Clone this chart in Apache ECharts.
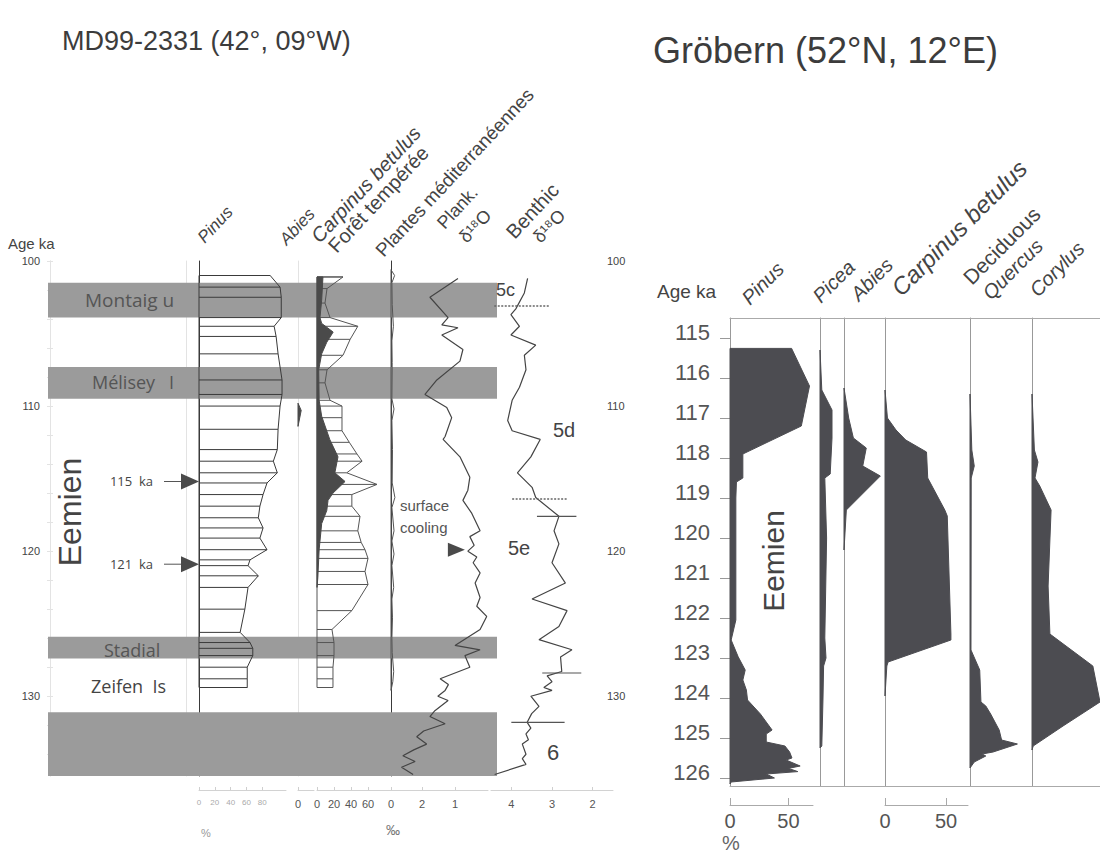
<!DOCTYPE html>
<html>
<head>
<meta charset="utf-8">
<script src="https://cdn.jsdelivr.net/npm/echarts@6/dist/echarts.min.js"></script>
<style>
html, body { margin: 0; padding: 0; background: #fff; }
#chart { width: 1100px; height: 854px; }
</style>
</head>
<body>
<div id="chart"></div>
<script>
// ---------- MD99-2331 (left panel) ----------
var ageTicksL = [100, 110, 120, 130];
var bandTops = [101.5, 107.3, 125.9, 131.1];
var bandBottoms = [103.9, 109.5, 127.4, 135.5];

// Pinus, % (outline + sample lines)
var pinusAgesL = [101.0, 101.8, 102.5, 103.9, 104.5, 105.2, 106.4, 108.2, 109.2, 110.0, 111.6, 113.0, 113.8, 114.6, 115.3, 116.1, 116.9, 117.7, 118.4, 119.1, 119.9, 120.6, 121.0, 121.7, 122.5, 124.0, 125.6, 126.3, 126.7, 127.2, 128.0, 128.8, 129.4];
var pinusValsL = [90, 102.5, 104, 104, 95, 97.5, 100, 105, 105, 102.5, 100, 99, 94, 99, 86, 81, 77, 75, 81, 77, 86, 64.5, 62, 75, 62, 58, 52, 64.5, 68, 68, 61, 61, 61];

// Abies, %
var abiesAgesL = [109.8, 110.3, 111.4];
var abiesValsL = [0, 4, 0];

// Forêt tempérée, %
var foretAges = [101.1, 101.9, 102.9, 103.9, 104.5, 105.4, 106.5, 107.5, 108.4, 109.6, 110.0, 110.8, 111.7, 112.5, 113.3, 113.8, 114.6, 115.4, 116.1, 116.9, 117.6, 118.6, 119.4, 119.9, 120.5, 121.4, 122.3, 124.1, 125.4, 126.3, 127.2, 128.0, 128.8, 129.4];
var foretVals = [30.6, 11.8, 9.4, 15.3, 48, 39, 30.6, 11.8, 9.4, 15.3, 29.4, 29.4, 29.4, 38, 47, 53, 35, 70.6, 41, 41, 50.6, 48, 52, 56.5, 60, 56.5, 60, 41, 17.6, 20, 20, 18.8, 18.8, 18.8];

// Carpinus betulus, %
var carpAgesL = [101.1, 102.7, 103.9, 104.3, 104.9, 105.6, 106.4, 107.5, 109.6, 110.7, 112.3, 113.5, 114.6, 115.2, 116.0, 116.5, 117.2, 118.1, 119.9, 121.8, 122.5];
var carpValsL = [7, 5.5, 3.5, 5.5, 19, 11.5, 5.5, 2, 2.5, 5.5, 15, 24.7, 21, 33, 18.8, 13, 11.5, 5.5, 2.5, 1, 0];

// Plantes méditerranéennes, %
var medAges = [100.6, 101.0, 101.5, 103.0, 104.5, 105.5, 107.0, 109.5, 110.2, 111.0, 113.0, 115.3, 116.3, 117.0, 118.6, 119.3, 120.2, 121.0, 122.5, 123.3, 124.6, 126.0, 127.0, 128.3, 129.0, 129.6];
var medVals = [0, 1.2, 0.3, 0.4, 0.8, 0.3, 0.4, 0.3, 1.0, 0.3, 0.5, 0.4, 1.3, 0.3, 1.0, 0.3, 1.0, 0.3, 0.9, 0.3, 0.5, 0.3, 0.4, 0.9, 0.6, 0];

// Planktonic δ18O, ‰
var plankAges = [101.2, 102.5, 103.9, 104.4, 104.6, 105.1, 106.1, 106.9, 108.2, 109.2, 110.1, 110.8, 112.1, 112.3, 113.5, 114.9, 115.8, 116.5, 117.4, 118.6, 119.0, 119.6, 120.0, 120.4, 120.8, 121.5, 122.2, 123.2, 123.8, 124.5, 125.4, 126.5, 126.8, 127.2, 128.0, 128.8, 129.2, 129.6, 130.0, 130.3, 131.0, 131.4, 131.9, 132.4, 132.8, 133.3, 133.7, 134.1, 134.5, 134.9, 135.4];
var plankVals = [0.91, 1.76, 1.21, 1.40, 0.91, 1.40, 0.76, 0.85, 1.55, 1.91, 1.25, 1.10, 1.30, 1.36, 0.85, 0.55, 0.61, 0.76, 0.49, 0.24, 0.55, 0.42, 0.61, 0.34, 0.45, 0.24, 0.39, 0.24, 0.34, 0.04, 0.24, 1.0, 0.24, 0.70, 0.55, 1.45, 1.20, 1.30, 1.52, 1.21, 1.61, 1.76, 1.30, 1.95, 2.16, 1.86, 2.25, 2.58, 2.21, 2.62, 2.27];

// Benthic δ18O, ‰
var benthAges = [101.2, 102.2, 103.3, 103.7, 104.5, 105.1, 105.8, 106.5, 107.5, 108.7, 109.6, 111.0, 111.7, 112.3, 113.5, 114.6, 115.6, 116.3, 117.6, 118.6, 119.5, 120.8, 122.2, 123.3, 124.1, 125.2, 126.1, 126.8, 127.3, 128.3, 128.6, 129.0, 129.4, 129.6, 130.0, 130.7, 131.2, 131.8, 132.2, 132.6, 133.0, 133.3, 134.0, 134.3, 134.7, 135.4];
var benthVals = [3.60, 3.68, 3.89, 4.01, 3.80, 4.01, 3.40, 3.68, 3.64, 3.80, 3.98, 4.09, 3.98, 3.29, 3.52, 3.85, 3.49, 3.40, 2.83, 2.95, 2.83, 3.00, 2.67, 3.49, 2.63, 2.83, 3.32, 2.51, 2.79, 2.76, 3.12, 3.00, 3.20, 3.00, 3.52, 3.32, 3.50, 3.61, 3.52, 3.64, 3.58, 3.73, 3.64, 3.73, 3.64, 4.41];

// isotope stage boundaries: [from ‰, to ‰, age, dotted]
var benthMarks = [[4.42, 3.06, 103.1, 1], [3.98, 2.64, 116.4, 1], [3.37, 2.40, 117.6, 0], [3.24, 2.28, 128.4, 0], [4.0, 2.69, 131.8, 0]];
var arrowAges = [115.2, 120.9];
var coolingPoint = [0.70, 119.9];

// ---------- Gröbern (right panel) ----------
var ageTicksR = [115, 116, 117, 118, 119, 120, 121, 122, 123, 124, 125, 126];
var pinusAgesR = [115.26, 116.2, 117.2, 117.9, 118.5, 118.6, 119.0, 122.05, 122.55, 122.97, 123.3, 123.55, 123.8, 124.05, 124.4, 124.8, 124.9, 125.1, 125.2, 125.35, 125.5, 125.55, 125.7, 125.76, 125.84, 125.9, 126.0, 126.1, 126.15];
var pinusValsR = [52.7, 68, 61, 11, 11, 5.5, 5, 5, 1, 7, 13, 11, 14, 15, 26, 36, 31, 31, 47, 51, 53, 48, 60, 50, 58, 31, 38, 1, 0];
var piceaAges = [115.3, 116.3, 116.8, 117.5, 118.4, 118.5, 120.0, 122.5, 123.0, 123.2, 124.0, 125.2, 125.25];
var piceaVals = [0, 1.5, 10, 10, 8.5, 4, 5.5, 4, 5, 3, 2.5, 1.5, 0];
var abiesAgesR = [116.25, 117.0, 117.5, 117.75, 118.2, 118.45, 119.3, 120.3];
var abiesValsR = [0, 4, 8, 19, 16, 31, 2, 0];
var carpAgesR = [116.3, 117.0, 117.3, 117.55, 117.85, 118.5, 119.3, 119.45, 122.4, 122.55, 123.1, 123.2, 123.95];
var carpValsR = [0, 2, 9, 17, 34, 35, 49, 51, 54, 54, 2.5, 1.5, 0];
var quercAges = [116.4, 117.8, 118.2, 118.5, 122.8, 123.3, 124.1, 124.2, 124.4, 124.8, 125.05, 125.15, 125.35, 125.4, 125.45, 125.6, 125.75];
var quercVals = [0, 1.5, 3.5, 1, 0.8, 8, 9, 13, 17, 24, 26, 39, 19, 10, 13, 3.5, 0];
var corylAges = [116.4, 117.8, 118.1, 118.5, 118.7, 119.3, 121.2, 122.4, 123.2, 124.1, 124.7, 125.2, 125.3];
var corylVals = [0, 2, 5, 2.5, 6.5, 16, 13.5, 15, 51, 57, 26, 1, 0];
var scaleTicksR = [0, 50];

var chart = echarts.init(document.getElementById('chart'), null, {renderer: 'svg'});

var PANEL_L = {min: 100, max: 135.5, top: 261, height: 515};
var PANEL_R = {min: 114.5, max: 126.2, top: 318, height: 468};
var FONT = 'Liberation Sans';
var DARK_L = '#4a4a4a';
var DARK_R = '#4c4c51';
var LINE = '#3a3a3a';
var FAINT = '#e3e3e3';

var grids = [], xAxes = [], yAxes = [], series = [];

function addGrid(left, width, panel, xa, ya) {
	var g = grids.length;
	grids.push({left: left, width: width, top: panel.top, height: panel.height, containLabel: false});
	xAxes.push(Object.assign({type: 'value', gridIndex: g, min: 0, max: 1, show: false, splitLine: {show: false}}, xa || {}));
	yAxes.push(Object.assign({type: 'value', gridIndex: g, min: panel.min, max: panel.max, inverse: true, show: false, splitLine: {show: false}}, ya || {}));
	return g;
}

function pairs(ages, vals) {
	return ages.map(function (a, i) { return [vals[i], a]; });
}

function areaSeries(g, ages, vals, fill, stroke, z) {
	return {
		type: 'custom', xAxisIndex: g, yAxisIndex: g, z: z || 3,
		data: pairs(ages, vals),
		renderItem: function (params, api) {
			if (params.dataIndex !== 0) return null;
			var pts = [api.coord([0, ages[0]])];
			ages.forEach(function (a, i) { pts.push(api.coord([vals[i], a])); });
			pts.push(api.coord([0, ages[ages.length - 1]]));
			return {type: 'polygon', shape: {points: pts}, style: {fill: fill, stroke: stroke, lineWidth: 1}};
		}
	};
}

function rungSeries(g, ages, vals, color) {
	return {
		type: 'custom', xAxisIndex: g, yAxisIndex: g, z: 3,
		data: pairs(ages, vals),
		renderItem: function (params, api) {
			var a = api.value(1);
			var p0 = api.coord([0, a]);
			var p1 = api.coord([api.value(0), a]);
			return {type: 'line', shape: {x1: p0[0], y1: p0[1], x2: p1[0], y2: p1[1]}, style: {stroke: color, lineWidth: 1}};
		}
	};
}

function curveSeries(g, ages, vals, color, width) {
	return {
		type: 'line', xAxisIndex: g, yAxisIndex: g, z: 4, showSymbol: false, clip: false,
		data: pairs(ages, vals),
		lineStyle: {color: color, width: width}
	};
}

function bottomAxis(values, size, color) {
	return {
		show: true, position: 'bottom', offset: 14,
		axisLine: {show: true, lineStyle: {color: '#d2d2d2'}},
		axisTick: {show: true, inside: true, length: 3, customValues: values, lineStyle: {color: '#cfcfcf'}},
		axisLabel: {show: true, customValues: values, fontSize: size, color: color, margin: 8, fontFamily: FONT}
	};
}
function faintAxis() {
	return {show: true, position: 'left', axisLine: {show: true, lineStyle: {color: FAINT}}, axisTick: {show: false}, axisLabel: {show: false}};
}

// ---- left frame: age axes + bands ----
var minorAges = [100, 102, 104, 106, 108, 110, 112, 114, 116, 118, 120, 122, 124, 126, 128, 130, 132, 134];
addGrid(50, 547, PANEL_L, null, {
	show: true, position: 'left',
	axisLine: {show: true, lineStyle: {color: FAINT}},
	axisTick: {show: true, length: 3, customValues: minorAges, lineStyle: {color: FAINT}},
	axisLabel: {customValues: ageTicksL, fontSize: 11, color: '#444', margin: 10, fontFamily: FONT}
});
addGrid(50, 547, PANEL_L, null, {
	show: true, position: 'right',
	axisLine: {show: true, lineStyle: {color: FAINT}},
	axisTick: {show: true, length: 3, customValues: minorAges, lineStyle: {color: FAINT}},
	axisLabel: {customValues: ageTicksL, fontSize: 11, color: '#444', margin: 10, fontFamily: FONT}
});
addGrid(186, 10, PANEL_L, null, faintAxis());
var gBands = addGrid(48, 449, PANEL_L);
series.push({
	type: 'custom', xAxisIndex: gBands, yAxisIndex: gBands, z: 1,
	data: bandTops.map(function (t, i) { return [t, bandBottoms[i]]; }),
	renderItem: function (params, api) {
		var p0 = api.coord([0, api.value(0)]);
		var p1 = api.coord([1, api.value(1)]);
		return {type: 'rect', shape: {x: p0[0], y: p0[1], width: p1[0] - p0[0], height: p1[1] - p0[1]}, style: {fill: '#9b9b9b'}};
	}
});

// ---- Pinus ----
var gPinusL = addGrid(199, 87, PANEL_L, Object.assign({min: 0, max: 110}, bottomAxis([0, 20, 40, 60, 80], 8, '#aaa')), {
	show: true, position: 'left', axisLine: {show: true, lineStyle: {color: LINE}}, axisTick: {show: false}, axisLabel: {show: false}
});
series.push(areaSeries(gPinusL, pinusAgesL, pinusValsL, 'none', LINE));
series.push(rungSeries(gPinusL, pinusAgesL, pinusValsL, LINE));
series.push({
	type: 'custom', xAxisIndex: gPinusL, yAxisIndex: gPinusL, z: 5,
	data: arrowAges.map(function (a) { return [0, a]; }),
	renderItem: function (params, api) {
		var p = api.coord([0, api.value(1)]);
		return {type: 'group', children: [
			{type: 'line', shape: {x1: p[0] - 35, y1: p[1], x2: p[0] - 16, y2: p[1]}, style: {stroke: '#555', lineWidth: 1}},
			{type: 'polygon', shape: {points: [[p[0] - 18, p[1] - 8], [p[0], p[1]], [p[0] - 18, p[1] + 8]]}, style: {fill: DARK_L}}
		]};
	}
});

// ---- Abies ----
var gAbiesL = addGrid(298, 16, PANEL_L, Object.assign({min: 0, max: 20}, bottomAxis([0], 11, '#555')), faintAxis());
series.push(areaSeries(gAbiesL, abiesAgesL, abiesValsL, DARK_L, DARK_L));

// ---- Forêt tempérée / Carpinus ----
var gForet = addGrid(317, 85, PANEL_L, Object.assign({min: 0, max: 100}, bottomAxis([0, 20, 40, 60], 11, '#555')));
series.push(areaSeries(gForet, foretAges, foretVals, 'none', '#555'));
series.push(rungSeries(gForet, foretAges, foretVals, '#555'));
series.push(areaSeries(gForet, carpAgesL, carpValsL, DARK_L, DARK_L, 4));

// ---- Plantes méditerranéennes ----
var gMed = addGrid(391, 30, PANEL_L, Object.assign({min: 0, max: 10}, bottomAxis([0], 11, '#555')), {
	show: true, position: 'left', axisLine: {show: true, lineStyle: {color: LINE}}, axisTick: {show: false}, axisLabel: {show: false}
});
series.push(areaSeries(gMed, medAges, medVals, 'none', '#555'));

// ---- Planktonic ----
var gPlank = addGrid(389, 99, PANEL_L, Object.assign({min: 0, max: 3, inverse: true}, bottomAxis([1, 2], 11, '#555')));
series.push(curveSeries(gPlank, plankAges, plankVals, '#444', 1.2));
series.push({
	type: 'custom', xAxisIndex: gPlank, yAxisIndex: gPlank, z: 5,
	data: [coolingPoint],
	renderItem: function (params, api) {
		var p = api.coord([api.value(0), api.value(1)]);
		return {type: 'polygon', shape: {points: [[p[0] - 17, p[1] - 7], [p[0], p[1]], [p[0] - 17, p[1] + 7]]}, style: {fill: DARK_L}};
	}
});

// ---- Benthic ----
var gBenth = addGrid(491, 122, PANEL_L, Object.assign({min: 1.5, max: 4.5, inverse: true}, bottomAxis([2, 3, 4], 11, '#555')));
series.push(curveSeries(gBenth, benthAges, benthVals, '#444', 1.2));
series.push({
	type: 'custom', xAxisIndex: gBenth, yAxisIndex: gBenth, z: 5,
	data: benthMarks,
	renderItem: function (params, api) {
		var p0 = api.coord([api.value(0), api.value(2)]);
		var p1 = api.coord([api.value(1), api.value(2)]);
		var dotted = api.value(3) === 1;
		return {type: 'line', shape: {x1: p0[0], y1: p0[1], x2: p1[0], y2: p1[1]},
			style: {stroke: dotted ? '#666' : '#555', lineWidth: dotted ? 1.5 : 1.2, lineDash: dotted ? [2, 1.5] : null}};
	}
});

// ---- right panel frame ----
addGrid(730, 370, PANEL_R, {show: true, position: 'top', axisLine: {show: true, lineStyle: {color: '#aaa'}}, axisTick: {show: false}, axisLabel: {show: false}});
addGrid(730, 370, PANEL_R, {show: true, position: 'bottom', axisLine: {show: true, lineStyle: {color: '#aaa'}}, axisTick: {show: false}, axisLabel: {show: false}}, {
	show: true, position: 'left',
	axisLine: {show: true, lineStyle: {color: '#999'}},
	axisTick: {show: true, length: 10, customValues: ageTicksR, lineStyle: {color: '#999'}},
	axisLabel: {customValues: ageTicksR, fontSize: 22, color: '#555', margin: 20, fontFamily: FONT, verticalAlign: 'bottom', lineHeight: 12}
});

function scaleAxis(max) {
	return {
		min: 0, max: max, show: true, position: 'bottom', offset: 19,
		axisLine: {show: true, lineStyle: {color: '#aaa'}},
		axisTick: {show: true, inside: true, length: 7, customValues: scaleTicksR, lineStyle: {color: '#aaa'}},
		axisLabel: {customValues: scaleTicksR, fontSize: 20, color: '#555', margin: 6, fontFamily: FONT}
	};
}
function sepAxis() {
	return {show: true, position: 'left', axisLine: {show: true, lineStyle: {color: '#999'}}, axisTick: {show: false}, axisLabel: {show: false}};
}

var gPinusR = addGrid(730, 83, PANEL_R, scaleAxis(71));
series.push(areaSeries(gPinusR, pinusAgesR, pinusValsR, DARK_R, DARK_R));
var gPicea = addGrid(820, 24, PANEL_R, {min: 0, max: 20}, sepAxis());
series.push(areaSeries(gPicea, piceaAges, piceaVals, DARK_R, DARK_R));
var gAbiesR = addGrid(844, 41, PANEL_R, {min: 0, max: 35}, sepAxis());
series.push(areaSeries(gAbiesR, abiesAgesR, abiesValsR, DARK_R, DARK_R));
var gCarpR = addGrid(885, 83, PANEL_R, scaleAxis(68), sepAxis());
series.push(areaSeries(gCarpR, carpAgesR, carpValsR, DARK_R, DARK_R));
var gQuerc = addGrid(970, 62, PANEL_R, {min: 0, max: 51}, sepAxis());
series.push(areaSeries(gQuerc, quercAges, quercVals, DARK_R, DARK_R));
var gCoryl = addGrid(1032, 68, PANEL_R, {min: 0, max: 57}, sepAxis());
series.push(areaSeries(gCoryl, corylAges, corylVals, DARK_R, DARK_R));

// ---- texts ----
function label(x, y, text, size, o) {
	o = o || {};
	return {
		type: 'text', x: x, y: y, rotation: o.rot || 0, z: 10,
		style: {
			text: text, fontSize: size, fontFamily: o.font || FONT,
			fontStyle: o.italic ? 'italic' : 'normal',
			fill: o.color || '#444', align: o.align || 'left', verticalAlign: o.va || 'middle'
		}
	};
}
var RL = 47 * Math.PI / 180;
var R45 = Math.PI / 4;
var graphics = [
	label(62, 41, 'MD99-2331 (42°, 09°W)', 27, {color: '#3c3c3c'}),
	label(653, 50, 'Gröbern (52°N, 12°E)', 36, {color: '#3c3c3c'}),
	label(8, 243, 'Age ka', 15),
	label(207, 246, 'Pinus', 17, {rot: RL, italic: true, va: 'bottom'}),
	label(289, 248, 'Abies', 17, {rot: RL, italic: true, va: 'bottom'}),
	label(322, 246, 'Carpinus betulus', 20, {rot: RL, italic: true, va: 'bottom'}),
	label(339, 256, 'Forêt tempérée', 20, {rot: RL, va: 'bottom'}),
	label(386, 260, 'Plantes méditerranéennes', 19, {rot: RL, va: 'bottom'}),
	label(447, 232, 'Plank.', 18, {rot: RL, va: 'bottom'}),
	label(469, 246, 'δ¹⁸O', 18, {rot: RL, va: 'bottom'}),
	label(517, 242, 'Benthic', 20, {rot: RL, va: 'bottom'}),
	label(543, 246, 'δ¹⁸O', 18, {rot: RL, va: 'bottom'}),
	label(85, 300, 'Montaig u', 19, {font: 'Open Sans', color: '#555'}),
	label(92, 382, 'Mélisey   I', 18, {font: 'Open Sans', color: '#555'}),
	label(104, 650, 'Stadial', 18, {font: 'Open Sans', color: '#555'}),
	label(91, 686, 'Zeifen  Is', 18, {font: 'Open Sans', color: '#444'}),
	label(153, 481, '115  ka', 13, {font: 'Open Sans', align: 'right'}),
	label(153, 564, '121  ka', 13, {font: 'Open Sans', align: 'right'}),
	label(70, 512, 'Eemien', 32, {rot: Math.PI / 2, align: 'center', color: '#444'}),
	label(400, 505, 'surface', 15, {color: '#555'}),
	label(400, 527, 'cooling', 15, {color: '#555'}),
	label(496, 290, '5c', 18, {color: '#444'}),
	label(553, 430, '5d', 20, {color: '#444'}),
	label(508, 548, '5e', 20, {color: '#444'}),
	label(547, 752, '6', 22, {color: '#444'}),
	label(201, 833, '%', 11, {color: '#999'}),
	label(386, 830, '‰', 14, {color: '#777'}),
	label(657, 291, 'Age ka', 19, {color: '#444'}),
	label(752, 308, 'Pinus', 20, {rot: R45, italic: true, va: 'bottom'}),
	label(823, 306, 'Picea', 20, {rot: R45, italic: true, va: 'bottom'}),
	label(861, 304, 'Abies', 20, {rot: R45, italic: true, va: 'bottom'}),
	label(904, 300, 'Carpinus betulus', 24, {rot: R45, italic: true, va: 'bottom'}),
	label(974, 288, 'Deciduous', 21, {rot: R45, va: 'bottom'}),
	label(993, 303, 'Quercus', 20, {rot: R45, italic: true, va: 'bottom'}),
	label(1040, 300, 'Corylus', 20, {rot: R45, italic: true, va: 'bottom'}),
	label(773, 561, 'Eemien', 30, {rot: Math.PI / 2, align: 'center', color: '#444'}),
	label(722, 843, '%', 20, {color: '#666'})
];

chart.setOption({
	animation: false,
	backgroundColor: '#fff',
	grid: grids,
	xAxis: xAxes,
	yAxis: yAxes,
	series: series,
	graphic: graphics
});
</script>
</body>
</html>
